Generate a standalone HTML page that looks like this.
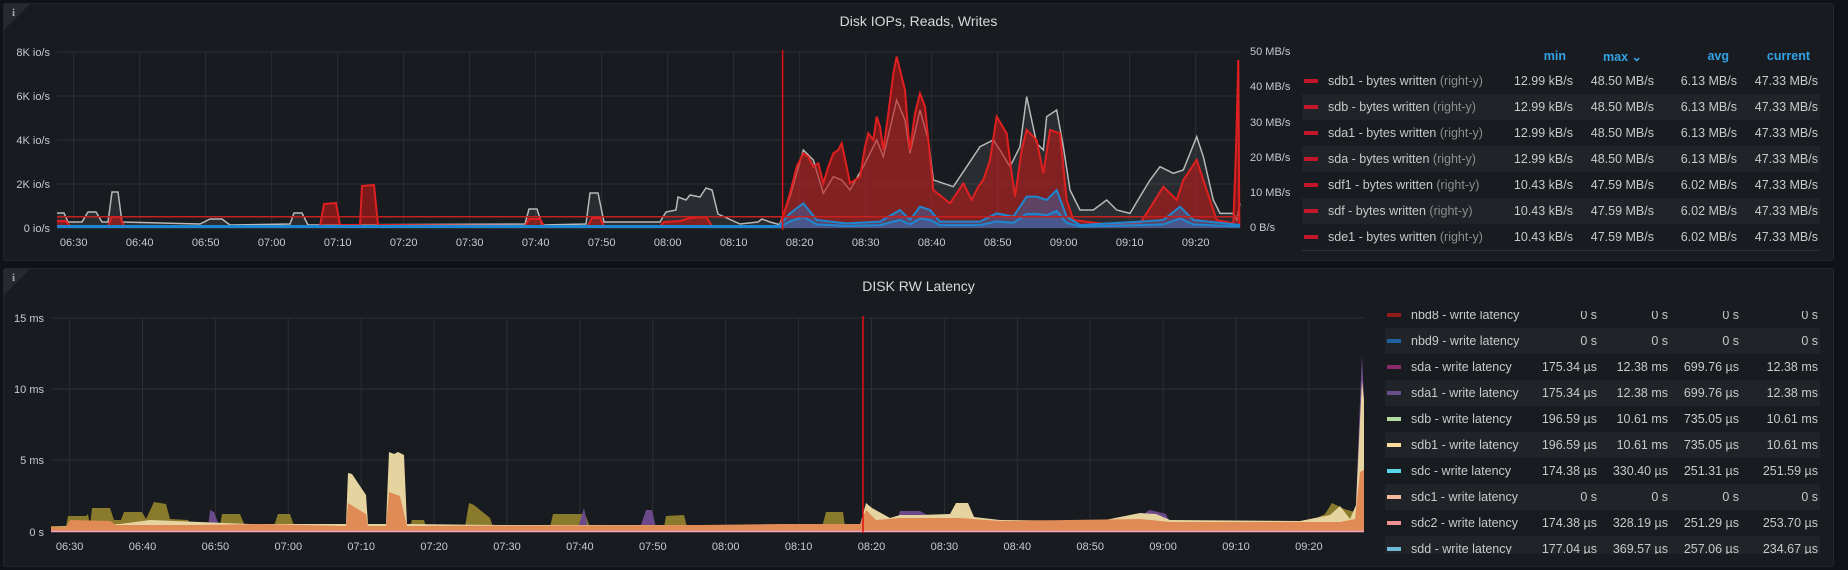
<!DOCTYPE html>
<html><head><meta charset="utf-8"><style>
body{margin:0;width:1848px;height:570px;background:#111217;overflow:hidden;font-family:"Liberation Sans",sans-serif;}
.panel{position:absolute;left:3px;width:1829px;background:#181b1f;border:1px solid #24272d;border-radius:3px;}
.title{position:absolute;left:0;width:100%;text-align:center;color:#d8d9da;font-size:14px;}
.corner{position:absolute;left:0;top:0;width:0;height:0;border-top:26px solid #262930;border-right:26px solid transparent;}
.ci{position:absolute;left:8px;top:3px;color:#aaa;font-size:11px;font-weight:bold;font-family:"Liberation Serif",serif;}
.lg{position:absolute;font-size:12.5px;color:#c8c9ca;}
.row{position:absolute;height:26px;line-height:26px;}
.row.alt{background:#202328;}
.sw{position:absolute;top:11px;width:14px;height:4px;}
.nm{position:absolute;white-space:nowrap;}
.nm span{color:#8e8e8e;}
.v{position:absolute;text-align:right;width:90px;}
.hd{position:absolute;color:#33a2e5;font-weight:bold;font-size:12.5px;text-align:right;width:90px;}
</style></head><body>
<div class="panel" style="top:3px;height:256px;"><div class="corner"></div><div class="ci">i</div>
<div class="title" style="top:9px;">Disk IOPs, Reads, Writes</div></div>
<div class="panel" style="top:268px;height:297px;"><div class="corner"></div><div class="ci">i</div>
<div class="title" style="top:9px;">DISK RW Latency</div></div>
<svg id="s" width="1848" height="570" style="position:absolute;left:0;top:0" font-family="Liberation Sans, sans-serif" font-size="11"></svg>
<div class="lg" id="l1" style="left:0;top:0"></div>
<div class="lg" id="l2" style="left:0;top:0;"></div>
<script>
var s=document.getElementById('s'),h='';
function ln(x1,y1,x2,y2,c,w){h+='<line x1="'+x1+'" y1="'+y1+'" x2="'+x2+'" y2="'+y2+'" stroke="'+c+'" stroke-width="'+(w||1)+'"/>';}
function tx(x,y,t,a,c){h+='<text x="'+x+'" y="'+y+'" fill="'+(c||'#c7cbd0')+'" text-anchor="'+(a||'start')+'">'+t+'</text>';}
var times=['06:30','06:40','06:50','07:00','07:10','07:20','07:30','07:40','07:50','08:00','08:10','08:20','08:30','08:40','08:50','09:00','09:10','09:20'];
var g='#2c2f35';
[52,96,140,184,228].forEach(function(y,i){ln(57,y,1240,y,g);tx(50,y+4,['8K io/s','6K io/s','4K io/s','2K io/s','0 io/s'][i],'end');});
times.forEach(function(t,i){var x=73.7+i*66;ln(x,52,x,228,g);tx(x,246,t,'middle');});
['50 MB/s','40 MB/s','30 MB/s','20 MB/s','10 MB/s','0 B/s'].forEach(function(t,i){tx(1250,[55,90,126,161,196,231][i],t);});
[318,389,460,532].forEach(function(y,i){ln(51,y,1364,y,g);tx(44,y+4,['15 ms','10 ms','5 ms','0 s'][i],'end');});
times.forEach(function(t,i){var x=69.6+i*72.9;ln(x,318,x,532,g);tx(x,550,t,'middle');});
function area(p,b,f,st,sw){var d='M'+p[0][0]+' '+b;p.forEach(function(q){d+=' L'+q[0]+' '+q[1];});d+=' L'+p[p.length-1][0]+' '+b+' Z';
h+='<path d="'+d+'" fill="'+f+'" stroke="none"/>';if(st){var e='M'+p.map(function(q){return q[0]+' '+q[1]}).join(' L');h+='<path d="'+e+'" fill="none" stroke="'+st+'" stroke-width="'+(sw||1.5)+'"/>';}}
function Z(a){return a.map(function(q){return [780+q[0]/3,40+q[1]/3];});}
var gray=[[57,213],[64,213],[68,222],[82,222],[88,212],[96,212],[102,222],[108,222],[112,192],[118,192],[122,222],[200,224],[210,219],[222,219],[230,225],[290,224],[294,213],[302,213],[308,225],[525,224],[529,209],[537,209],[542,225],[586,224],[590,193],[598,193],[604,222],[660,222],[666,212],[676,210],[678,197],[686,200],[690,195],[700,197],[706,188],[712,190],[718,214],[740,224],[758,222],[762,219],[770,222],[781,225]].concat(Z([[0,550],[30,470],[70,330],[100,360],[130,460],[160,410],[185,420],[210,450],[250,380],[290,300],[310,350],[350,180],[375,240],[390,340],[420,210],[445,300],[460,420],[490,430],[520,440],[560,380],[600,320],[640,300],[660,330],[690,380],[720,320],[740,170],[770,310],[790,330],[800,230],[830,210],[850,320],[870,450],[900,510],[940,510],[980,480],[1010,510],[1050,520],[1080,470],[1110,420],[1140,380],[1180,400],[1210,390],[1250,290],[1270,350],[1300,480],[1320,520],[1360,520],[1370,540],[1380,490]]));
var red=[[57,221],[66,221],[70,226],[108,226],[112,217],[120,217],[124,226],[320,226],[324,204],[336,203],[340,225],[360,225],[362,186],[374,185],[378,225],[525,226],[529,219],[540,219],[544,226],[588,226],[592,218],[600,218],[604,226],[660,226],[664,222],[680,221],[690,218],[706,217],[712,226],[781,226]].concat(Z([[0,560],[30,460],[50,380],[70,340],[85,350],[100,380],[115,370],[130,430],[145,380],[160,340],[175,330],[185,310],[200,380],[210,430],[240,410],[255,320],[265,280],[280,300],[290,230],[300,260],[310,330],[325,220],[340,100],[350,50],[365,110],[375,150],[385,280],[390,330],[405,220],[420,160],[435,200],[445,300],[460,450],[485,470],[510,490],[530,460],[550,430],[575,480],[595,440],[610,420],[630,360],[650,230],[680,280],[695,400],[705,470],[725,330],[740,270],[770,300],[790,400],[810,270],[840,280],[860,480],[880,540],[960,550],[1000,555],[1080,550],[1100,520],[1150,440],[1190,480],[1210,420],[1250,360],[1280,450],[1310,540],[1360,550],[1368,330],[1375,60],[1378,560]]));
var blue=[[57,226],[781,226]].concat(Z([[0,555],[30,520],[70,490],[110,540],[200,550],[300,545],[360,510],[390,540],[420,500],[450,510],[480,545],[600,545],[650,520],[700,530],[740,470],[770,470],[800,480],[830,450],[860,530],[900,555],[1080,545],[1150,540],[1200,500],[1240,540],[1380,555]]));
var blue2=blue.map(function(q){return [q[0],228-(228-q[1])*0.45];});
area(gray,228,'rgba(120,125,135,0.18)','#b8b8b8',1.5);
area(red,228,'rgba(190,25,25,0.6)','#e02020',2);
area(blue,228,'rgba(40,120,200,0.4)','#1f86d0',2);
area(blue2,228,'rgba(40,120,200,0.4)','#1f86d0',2);
ln(57,216.7,1240,216.7,'#c62020',1.5);
ln(782.6,50,782.6,230,'#e01010',1.5);
var olive=[[51,526],[66,526],[68,516],[86,516],[88,514],[90,526],[92,508],[110,508],[114,520],[121,520],[124,512],[142,512],[146,519],[154,502],[166,504],[170,519],[188,520],[192,526],[220,526],[222,514],[240,514],[245,526],[274,526],[278,514],[290,514],[294,526],[296,527],[410,527],[412,520],[424,520],[426,527],[465,527],[469,503],[474,505],[490,518],[493,527],[550,527],[553,514],[585,514],[590,527],[664,527],[666,516],[684,515],[687,527],[822,527],[826,512],[843,512],[845,527],[1000,527],[1100,526],[1200,526],[1300,526],[1325,514],[1332,503],[1344,509],[1355,512],[1358,500],[1363,480]];
area(olive,532,'#8a7a2c');
var purple=[[51,528],[208,528],[210,510],[214,512],[220,528],[578,528],[584,508],[588,528],[640,528],[646,510],[652,510],[656,528],[895,528],[900,511],[920,511],[936,520],[942,528],[1140,528],[1146,512],[1150,510],[1166,514],[1172,528],[1355,528],[1360,400],[1362,355],[1364,400]];
area(purple,532,'#6b4a8c');
var cream=[[51,527],[120,524],[150,520],[250,524],[346,524],[348,473],[352,474],[360,486],[366,495],[368,524],[386,524],[389,452],[394,454],[398,452],[404,455],[407,524],[500,525],[860,525],[866,503],[872,508],[890,518],[900,515],[920,515],[950,514],[956,503],[968,503],[974,517],[1000,520],[1100,521],[1140,513],[1156,514],[1170,520],[1300,521],[1330,515],[1340,506],[1350,519],[1356,505],[1360,420],[1362,380],[1364,400]];
area(cream,532,'#e6d4a0');
var orange=[[51,527],[66,527],[70,520],[110,521],[116,525],[200,525],[260,524],[346,526],[348,503],[366,514],[368,526],[386,526],[389,492],[400,496],[407,526],[700,525],[780,524],[860,524],[866,510],[876,520],[900,518],[960,518],[1000,521],[1140,519],[1170,522],[1340,522],[1355,519],[1360,472],[1364,470]];
area(orange,532,'#e08a55');
ln(51,531.5,1364,531.5,'#f0a0c0',1.5);
ln(863,316,863,533,'#e01010',1.5);
s.innerHTML=h;
function legend(el,rows,sx,tx0,cols,rowTop,bg0,bg1,first){var o='';
rows.forEach(function(r,i){o+='<div class="row'+((i%2==first)?' alt':'')+'" style="left:'+bg0+'px;width:'+(bg1-bg0)+'px;top:'+(rowTop+i*26)+'px"></div>';
o+='<div class="sw" style="left:'+sx+'px;top:'+(rowTop+i*26+11)+'px;background:'+r[0]+'"></div>';
o+='<div class="nm" style="left:'+tx0+'px;top:'+(rowTop+i*26)+'px;line-height:26px">'+r[1]+'</div>';
for(var k=0;k<4;k++)o+='<div class="v" style="left:'+(cols[k]-90)+'px;top:'+(rowTop+i*26)+'px;line-height:26px">'+r[2+k]+'</div>';});
document.getElementById(el).innerHTML=o;}
var R='<span>&nbsp;(right-y)</span>',rc='#c4162a';
legend('l1',[[rc,'sdb1 - bytes written'+R,'12.99 kB/s','48.50 MB/s','6.13 MB/s','47.33 MB/s'],[rc,'sdb - bytes written'+R,'12.99 kB/s','48.50 MB/s','6.13 MB/s','47.33 MB/s'],[rc,'sda1 - bytes written'+R,'12.99 kB/s','48.50 MB/s','6.13 MB/s','47.33 MB/s'],[rc,'sda - bytes written'+R,'12.99 kB/s','48.50 MB/s','6.13 MB/s','47.33 MB/s'],[rc,'sdf1 - bytes written'+R,'10.43 kB/s','47.59 MB/s','6.02 MB/s','47.33 MB/s'],[rc,'sdf - bytes written'+R,'10.43 kB/s','47.59 MB/s','6.02 MB/s','47.33 MB/s'],[rc,'sde1 - bytes written'+R,'10.43 kB/s','47.59 MB/s','6.02 MB/s','47.33 MB/s']],1304,1328,[1573,1654,1737,1818],68,1302,1820,1);
var l1=document.getElementById('l1');
l1.innerHTML+='<div class="hd" style="left:1476px;top:49px">min</div><div class="hd" style="left:1552px;top:49px">max &#8964;</div><div class="hd" style="left:1639px;top:49px">avg</div><div class="hd" style="left:1720px;top:49px">current</div><div style="position:absolute;left:1302px;top:250px;width:518px;height:1px;background:#2c2f35"></div>';
var u='\u00b5s';
legend('l2',[['#8f1b1b','nbd8 - write latency','0 s','0 s','0 s','0 s'],['#1f60a0','nbd9 - write latency','0 s','0 s','0 s','0 s'],['#8a2a6a','sda - write latency','175.34 '+u,'12.38 ms','699.76 '+u,'12.38 ms'],['#6a4f8c','sda1 - write latency','175.34 '+u,'12.38 ms','699.76 '+u,'12.38 ms'],['#b4dca0','sdb - write latency','196.59 '+u,'10.61 ms','735.05 '+u,'10.61 ms'],['#f8dca0','sdb1 - write latency','196.59 '+u,'10.61 ms','735.05 '+u,'10.61 ms'],['#5ad4e8','sdc - write latency','174.38 '+u,'330.40 '+u,'251.31 '+u,'251.59 '+u],['#f8b8a0','sdc1 - write latency','0 s','0 s','0 s','0 s'],['#f09090','sdc2 - write latency','174.38 '+u,'328.19 '+u,'251.29 '+u,'253.70 '+u],['#70b8d8','sdd - write latency','177.04 '+u,'369.57 '+u,'257.06 '+u,'234.67 '+u]],1387,1411,[1597,1668,1739,1818],302,1385,1820,1);
var l2=document.getElementById('l2');l2.style.clip='rect(311px,1848px,554px,0)';l2.style.position='absolute';l2.style.width='1848px';l2.style.height='570px';
</script>
</body></html>
